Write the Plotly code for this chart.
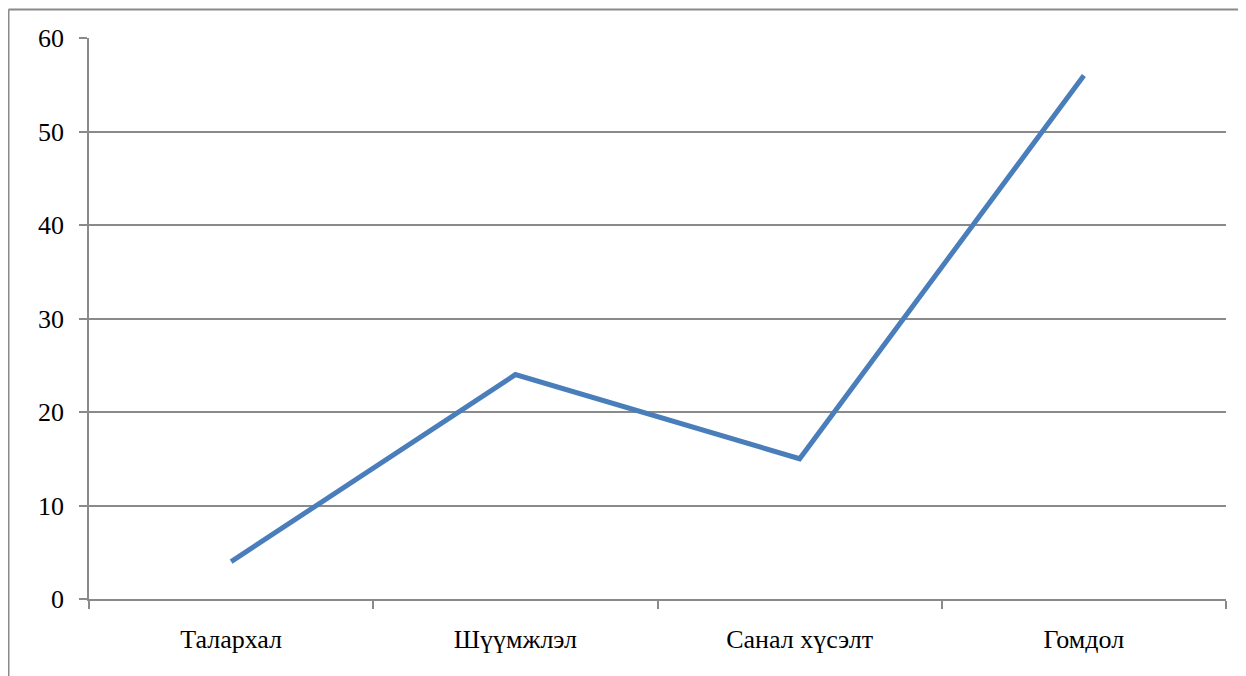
import plotly.graph_objects as go

categories = ["Талархал", "Шүүмжлэл", "Санал хүсэлт", "Гомдол"]
values = [4, 24, 15, 56]
y_ticks = [0, 10, 20, 30, 40, 50, 60]

# page body has an 8px margin, so figure coords = reference coords - 8
W, H = 1238, 668
L, R, T, B = 81, 20, 30, 77
pw = W - L - R
ph = H - T - B

fig = go.Figure()
fig.add_trace(go.Scatter(
    x=categories, y=values, mode="lines",
    line=dict(color="#4a7ebb", width=5),
    hoverinfo="x+y",
))

grey = "#8a8a8a"
fx = (0.5 - L) / pw
fy = (ph + T - 1.5) / ph
fig.update_layout(
    width=W, height=H,
    margin=dict(l=L, r=R, t=T, b=B),
    paper_bgcolor="white", plot_bgcolor="white",
    showlegend=False,
    font=dict(family="Liberation Serif", size=26, color="black"),
    xaxis=dict(
        type="category", range=[-0.5, 3.5],
        tickson="boundaries", ticks="outside", ticklen=8, tickwidth=1.5, tickcolor=grey,
        showgrid=False, showline=True, linecolor=grey, linewidth=1.5,
        ticklabelstandoff=16, zeroline=False,
    ),
    yaxis=dict(
        range=[0, 60], tickvals=y_ticks, ticks="outside", ticklen=8, tickwidth=1.5,
        tickcolor=grey, showgrid=True, gridcolor=grey, gridwidth=1.5,
        showline=True, linecolor=grey, linewidth=1.5, zeroline=False,
        ticklabelstandoff=10,
    ),
    shapes=[
        dict(type="line", xref="paper", yref="paper",
             x0=fx, x1=1.1, y0=fy, y1=fy,
             line=dict(color=grey, width=2)),
        dict(type="line", xref="paper", yref="paper",
             x0=fx, x1=fx, y0=fy, y1=-0.2,
             line=dict(color=grey, width=2)),
    ],
)

fig.write_html("out.html")
